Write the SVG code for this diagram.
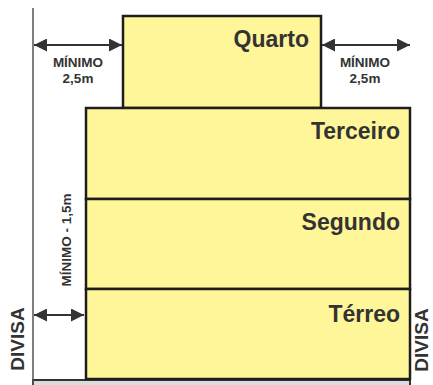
<svg xmlns="http://www.w3.org/2000/svg" width="433" height="385" viewBox="0 0 433 385">
<defs>
<style>
.floor{fill:#fff599;stroke:#1e1e1e;stroke-width:2.5}
.lbl{font-family:"Liberation Sans",Arial,sans-serif;font-weight:bold;font-size:23px;fill:#333;text-anchor:end}
.sm{font-family:"Liberation Sans",Arial,sans-serif;font-weight:bold;font-size:13.5px;fill:#333;text-anchor:middle}
.div{font-family:"Liberation Sans",Arial,sans-serif;font-weight:bold;font-size:19px;fill:#333;text-anchor:middle}
.arr{stroke:#333;stroke-width:2;fill:none;marker-start:url(#ah);marker-end:url(#ah)}
</style>
<marker id="ah" viewBox="0 0 13 13" refX="13" refY="6.5" markerWidth="13" markerHeight="13" markerUnits="userSpaceOnUse" orient="auto-start-reverse">
<path d="M0,0 L13,6.5 L0,13 Z" fill="#333"/>
</marker>
</defs>
<g id="ground">
<rect x="33" y="380" width="377" height="12" fill="#dcdcdc" stroke="#333" stroke-width="2"/>
</g>
<g id="divisa-left">
<line x1="33" y1="8" x2="33" y2="385" stroke="#555" stroke-width="1.5"/>
<text class="div" transform="translate(24,339) rotate(-90)">DIVISA</text>
</g>
<g id="divisa-right">
<text class="div" transform="translate(428,340) rotate(-90)">DIVISA</text>
</g>
<g id="quarto">
<rect class="floor" x="123" y="16" width="198" height="92"/>
<text class="lbl" x="309" y="47">Quarto</text>
</g>
<g id="terceiro">
<rect class="floor" x="86" y="108" width="324" height="91"/>
<text class="lbl" x="400" y="139">Terceiro</text>
</g>
<g id="segundo">
<rect class="floor" x="86" y="199" width="324" height="90"/>
<text class="lbl" x="400" y="230">Segundo</text>
</g>
<g id="terreo">
<rect class="floor" x="86" y="289" width="324" height="90"/>
<text class="lbl" x="400" y="322">Térreo</text>
</g>
<g id="connectors">
<line class="arr" x1="34" y1="45" x2="122" y2="45"/>
<line class="arr" x1="322" y1="45" x2="410" y2="45"/>
<line class="arr" x1="34" y1="315" x2="84" y2="315"/>
</g>
<g id="labels">
<text class="sm" x="78" y="67">MÍNIMO</text>
<text class="sm" x="78" y="83">2,5m</text>
<text class="sm" x="365" y="67">MÍNIMO</text>
<text class="sm" x="365" y="83">2,5m</text>
<text class="sm" transform="translate(71,240) rotate(-90)">MÍNIMO - 1,5m</text>
</g>
</svg>
